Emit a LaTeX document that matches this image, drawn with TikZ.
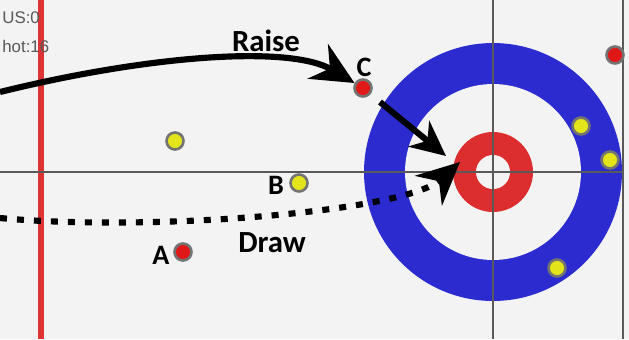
\documentclass[tikz,border=0pt]{standalone}
\usepackage{fontspec}
\setmainfont{Carlito}
\newfontfamily\arialfont{Liberation Sans}
\usetikzlibrary{arrows.meta}

\definecolor{ghiaccio}{HTML}{F3F3F3}
\definecolor{bluCasa}{HTML}{2B2BD0}
\definecolor{rossoCasa}{HTML}{DC2E2E}
\definecolor{rossoLinea}{HTML}{DE3434}
\definecolor{gialloS}{HTML}{E4E41A}
\definecolor{rossoS}{HTML}{E01818}

\begin{document}
\begin{tikzpicture}[
    x=0.02cm,y=-0.02cm,
    linea/.style={draw=black!65,line width=0.9pt},
    sasso/.style={circle,draw=black!55,line width=1.5pt,inner sep=0pt,minimum size=0.34cm},
    giallo/.style={sasso,fill=gialloS},
    rosso/.style={sasso,fill=rossoS},
    lettera/.style={font=\bfseries\fontsize{16}{19}\selectfont,inner sep=0pt},
    colpo/.style={font=\bfseries\fontsize{17.5}{20}\selectfont,inner sep=0pt},
    punteggio/.style={font=\arialfont\fontsize{9.6}{11}\selectfont,text=black!65,anchor=base west,inner sep=0pt},
    freccia/.style={draw=black,line width=3.5pt,-{Stealth[length=0.85cm,width=0.8cm,inset=0.28cm]}}]

  % ---- ghiaccio --------------------------------------------------------
  \useasboundingbox (0,0) rectangle (629,339);
  \fill[ghiaccio] (0,0) rectangle (629,339);

  % linea rossa a sinistra
  \fill[rossoLinea] (37.5,0) rectangle (43.5,339);

  % ---- casa ------------------------------------------------------------
  \coordinate (tee) at (493,172);
  \fill[bluCasa]   (tee) circle[radius=2.58cm];
  \fill[ghiaccio]  (tee) circle[radius=1.76cm];
  \fill[rossoCasa] (tee) circle[radius=0.80cm];
  \fill[ghiaccio]  (tee) circle[radius=0.34cm];

  % ---- linee -----------------------------------------------------------
  \coordinate (ls) at (0,172);
  \coordinate (ld) at (623,172);
  \coordinate (ca) at (493,0);
  \coordinate (cb) at (493,339);
  \coordinate (ba) at (623,0);
  \coordinate (bb) at (623,339);
  \draw[linea] (ls) -- (ld);
  \draw[linea] (ca) -- (cb);
  \draw[linea] (ba) -- (bb);

  % ---- sassi -----------------------------------------------------------
  \node[giallo] (g1) at (175,141) {};
  \node[giallo] (B)  at (299,183) {};
  \node[rosso]  (A)  at (183,252) {};
  \node[rosso]  (C)  at (363,88)  {};
  \node[giallo] (g2) at (581,126) {};
  \node[giallo] (g3) at (610,160) {};
  \node[giallo] (g4) at (557,268) {};
  \node[rosso]  (r1) at (615,55)  {};

  % ---- testi -----------------------------------------------------------
  \node[punteggio] (us)  at (2,23) {US:0};
  \node[punteggio] (hot) at (2,52) {hot:16};

  \node[lettera] (lA) at (161,255) {A};
  \node[lettera] (lB) at (276,185) {B};
  \node[lettera] (lC) at (364,67)  {C};

  \node[colpo] (raise) at (266,41)  {Raise};
  \node[colpo] (draw)  at (272,243) {Draw};

  % ---- frecce ----------------------------------------------------------
  \coordinate (p1) at (0,92);
  \draw[freccia] (p1) .. controls (150,55) and (290,45) .. (C);

  \coordinate (p2a) at (380,102);
  \coordinate (p2b) at (446,156);
  \draw[freccia,-{Stealth[length=0.7cm,width=0.66cm,inset=0.22cm]}] (p2a) -- (p2b);

  \coordinate (p3a) at (0,218);
  \coordinate (p3b) at (460,162);
  \draw[freccia,dash pattern=on 0.14cm off 0.2cm]
    (p3a) .. controls (150,232) and (405,212) .. (p3b);

\end{tikzpicture}
\end{document}
